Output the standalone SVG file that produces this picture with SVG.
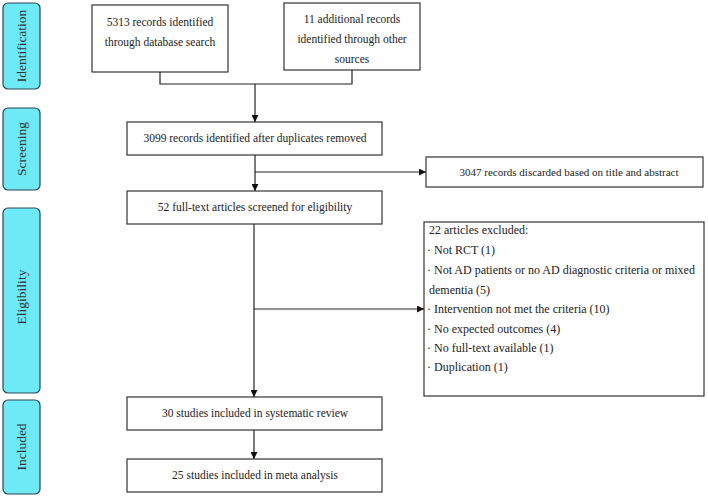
<svg xmlns="http://www.w3.org/2000/svg" width="708" height="497" viewBox="0 0 708 497">
<defs>
<style>
.stage{fill:#6eeaf6;stroke:#2b4550;stroke-width:1.2}
.box{fill:#fff;stroke:#333;stroke-width:1.2}
.st{font-family:"Liberation Serif","Times New Roman",serif;font-size:13.5px;fill:#333;text-anchor:middle}
.t{font-family:"Liberation Serif","Times New Roman",serif;font-size:11.5px;fill:#222;text-anchor:middle}
.tl{font-family:"Liberation Serif","Times New Roman",serif;font-size:12px;fill:#222}
.ln{fill:none;stroke:#222;stroke-width:1.2}
</style>
<marker id="ah" viewBox="0 0 10 10" refX="10" refY="5" markerWidth="7" markerHeight="7" markerUnits="userSpaceOnUse" orient="auto">
<path d="M0,0 L10,5 L0,10 Z" fill="#111"/>
</marker>
</defs>
<rect width="708" height="497" fill="#fff"/>
<g id="stage-identification"><rect class="stage" x="3" y="3" width="37" height="86" rx="5"/><text class="st" transform="translate(26,46) rotate(-90)">Identification</text></g>
<g id="stage-screening"><rect class="stage" x="3" y="108" width="37" height="82" rx="5"/><text class="st" transform="translate(26,149) rotate(-90)">Screening</text></g>
<g id="stage-eligibility"><rect class="stage" x="3" y="208" width="37" height="185" rx="5"/><text class="st" transform="translate(26,297) rotate(-90)">Eligibility</text></g>
<g id="stage-included"><rect class="stage" x="3" y="400" width="37" height="94" rx="5"/><text class="st" transform="translate(26,447) rotate(-90)">Included</text></g>

<g id="n-database"><rect class="box" x="92" y="5" width="136" height="67"/><text class="t" x="160" y="26">5313 records identified</text><text class="t" x="160" y="46">through database search</text></g>
<g id="n-other"><rect class="box" x="284" y="3" width="136" height="67"/><text class="t" x="352" y="23">11 additional records</text><text class="t" x="352" y="43">identified through other</text><text class="t" x="352" y="63">sources</text></g>
<g id="n-dedup"><rect class="box" x="127" y="122" width="255" height="33"/><text class="t" x="255" y="142">3099 records identified after duplicates removed</text></g>
<g id="n-discarded"><rect class="box" x="426" y="157" width="277" height="30"/><text class="t" x="569" y="176" style="font-size:11px">3047 records discarded based on title and abstract</text></g>
<g id="n-fulltext"><rect class="box" x="127" y="191" width="255" height="33"/><text class="t" x="255" y="211">52 full-text articles screened for eligibility</text></g>
<g id="n-excluded"><rect class="box" x="424" y="222" width="280" height="174"/>
<text class="tl" x="429" y="234">22 articles excluded:</text>
<text class="tl" x="427" y="254">· Not RCT (1)</text>
<text class="tl" x="427" y="274">· Not AD patients or no AD diagnostic criteria or mixed</text>
<text class="tl" x="429" y="294">dementia (5)</text>
<text class="tl" x="427" y="313">· Intervention not met the criteria (10)</text>
<text class="tl" x="427" y="333">· No expected outcomes (4)</text>
<text class="tl" x="427" y="352">· No full-text available (1)</text>
<text class="tl" x="427" y="371">· Duplication (1)</text>
</g>
<g id="n-systematic"><rect class="box" x="127" y="397" width="255" height="33"/><text class="t" x="255" y="417">30 studies included in systematic review</text></g>
<g id="n-meta"><rect class="box" x="127" y="459" width="255" height="33"/><text class="t" x="255" y="479">25 studies included in meta analysis</text></g>

<g id="connectors">
<path class="ln" d="M160,72 V84 H352 V70"/>
<path class="ln" d="M255,84 V122" marker-end="url(#ah)"/>
<path class="ln" d="M255,155 V191" marker-end="url(#ah)"/>
<path class="ln" d="M255,172 H426" marker-end="url(#ah)"/>
<path class="ln" d="M254,224 V397" marker-end="url(#ah)"/>
<path class="ln" d="M254,309 H424" marker-end="url(#ah)"/>
<path class="ln" d="M254,430 V459" marker-end="url(#ah)"/>
</g>
</svg>
